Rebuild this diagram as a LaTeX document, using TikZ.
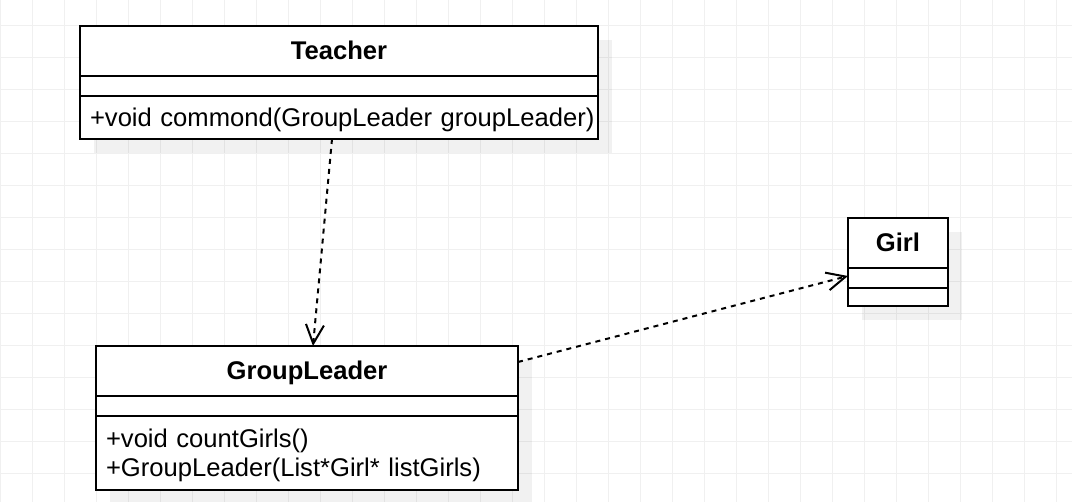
\documentclass[tikz,border=0pt]{standalone}
\usepackage{fontspec}
\setmainfont{Liberation Sans}
\usepackage{tikz}
\usetikzlibrary{arrows.meta, positioning, shadows}
\definecolor{grisrejilla}{HTML}{F0F0F0}
\newcommand{\renglon}{\rule[-0.212em]{0pt}{1.117em}}
\tikzstyle{clase} = [draw=black, line width=2pt, fill=white, rectangle, outer sep=0pt, inner xsep=10pt, inner ysep=0pt, drop shadow={shadow xshift=14pt, shadow yshift=-14pt, fill=black, opacity=0.055}]
\tikzstyle{nombre} = [clase, minimum height=50pt, font=\fontsize{25.6}{29}\selectfont\bfseries]
\tikzstyle{atributos} = [clase, minimum height=20pt]
\tikzstyle{metodos} = [clase, align=left, font=\fontsize{25.6}{29}\selectfont]
\tikzstyle{dependencia} = [line width=2pt, dash pattern=on 5pt off 5pt, -{Straight Barb[length=19pt, width=18pt]}]
\tikzstyle{rejilla} = [draw=grisrejilla, line width=1pt]

\begin{document}
\begin{tikzpicture}[x=1pt, y=-1pt]
	\useasboundingbox (0,0) rectangle (1072,502);
	\foreach \x in {0,32,...,1056} \draw[rejilla] (\x,0) -- (\x,502);
	\foreach \y in {26,58,...,474} \draw[rejilla] (0,\y) -- (1072,\y);

	% Teacher
	\node[nombre, minimum width=518pt, anchor=north west] (teacher) at (80,26) {\renglon Teacher};
	\node[atributos, minimum width=518pt, below=0pt of teacher] (teacherA) {};
	\node[metodos, text width=498pt, minimum height=43pt, below=0pt of teacherA] (teacherM) {\mbox{\renglon +void commond(GroupLeader groupLeader)}};

	% GroupLeader
	\node[nombre, minimum width=422pt, anchor=north west] (groupleader) at (96,346) {\renglon GroupLeader};
	\node[atributos, minimum width=422pt, below=0pt of groupleader] (groupleaderA) {};
	\node[metodos, text width=402pt, minimum height=74pt, below=0pt of groupleaderA] (groupleaderM) {\renglon +void countGirls()\\ \renglon +GroupLeader(List*Girl* listGirls)};

	% Girl
	\node[nombre, minimum width=100pt, anchor=north west] (girl) at (848,218) {\renglon Girl};
	\node[atributos, minimum width=100pt, below=0pt of girl] (girlA) {};
	\node[atributos, minimum width=100pt, minimum height=18pt, below=0pt of girlA] (girlM) {};

	\draw[dependencia] ([xshift=-7pt]teacherM.south) -- ([xshift=6pt]groupleader.north);
	\draw[dependencia] ([yshift=9pt]groupleader.east) -- ([yshift=2pt]girlA.west);
\end{tikzpicture}
\end{document}
